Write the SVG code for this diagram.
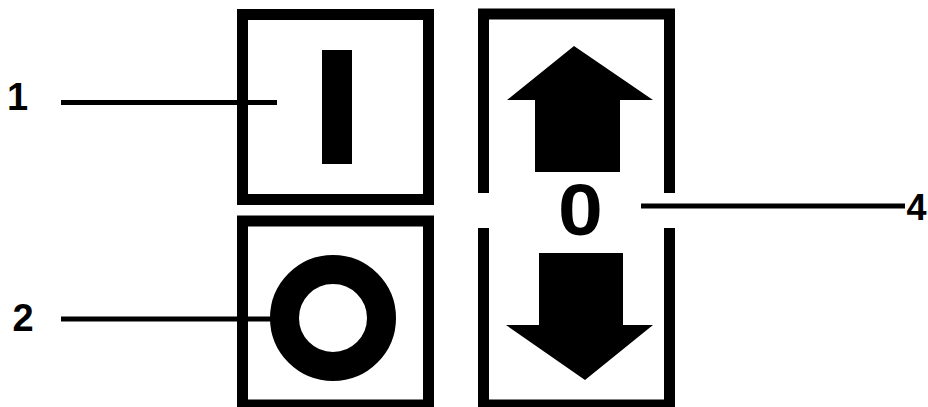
<svg xmlns="http://www.w3.org/2000/svg" width="928" height="407" viewBox="0 0 928 407">
<style>
.frame{fill:none;stroke:#000;stroke-width:11;stroke-linejoin:miter}
.lead{stroke:#000;stroke-width:5;fill:none}
.lbl{font-family:"Liberation Sans",Arial,sans-serif;font-weight:bold;font-size:38px;fill:#000;text-anchor:middle}
.glyph{fill:#000}
</style>
<rect width="928" height="407" fill="#fff"/>
<g id="node-on">
<rect class="frame" x="242.5" y="14.5" width="186" height="185"/>
<rect class="glyph" x="322" y="50" width="30" height="114"/>
</g>
<g id="node-off">
<rect class="frame" x="242.5" y="221" width="186" height="184"/>
<circle cx="333" cy="318" r="48.5" fill="none" stroke="#000" stroke-width="29"/>
</g>
<g id="node-updown">
<path class="frame" d="M483.5,193 V14 H669.5 V193"/>
<path class="frame" d="M483.5,228 V405 H669.5 V228"/>
<polygon class="glyph" points="574,46 653,100 620,100 620,172 535,172 535,100 507,100"/>
<polygon class="glyph" points="539,253 623,253 623,325 653,325 585,380 506,325 539,325"/>
<text class="lbl" transform="translate(580.5,235) scale(1.12,1)" style="font-size:72px">0</text>
</g>
<g id="connectors">
<line class="lead" x1="61" y1="102.5" x2="277" y2="102.5"/>
<line class="lead" x1="61" y1="319" x2="272" y2="319"/>
<line class="lead" x1="641" y1="206" x2="905" y2="206"/>
</g>
<g id="labels">
<text class="lbl" x="17.5" y="110">1</text>
<text class="lbl" x="23" y="331">2</text>
<text class="lbl" x="916.5" y="220" style="font-size:36px">4</text>
</g>
</svg>
